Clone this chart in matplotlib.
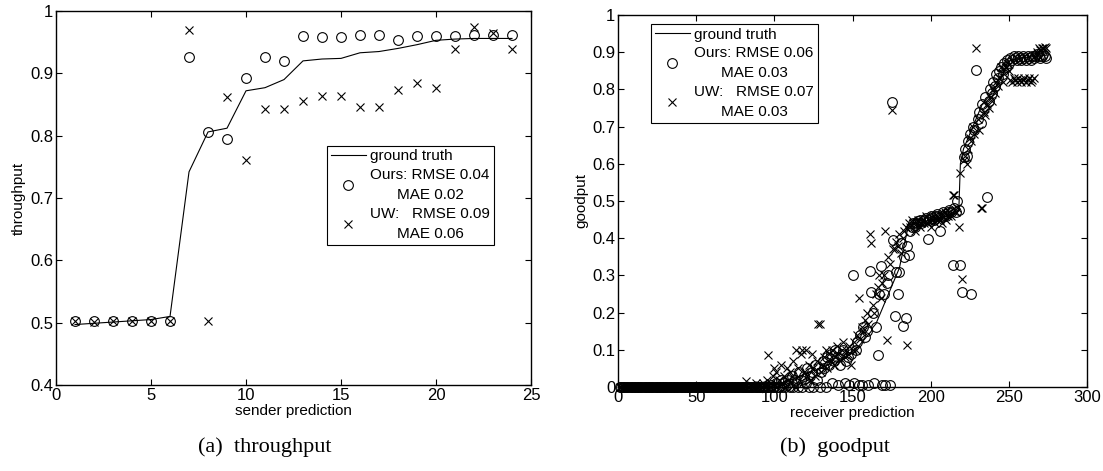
import matplotlib
matplotlib.use("Agg")
import matplotlib.pyplot as plt
from matplotlib.ticker import FuncFormatter

plt.rcParams["font.family"] = ["Liberation Sans", "DejaVu Sans"]

# ---- (a) throughput: sender prediction ----
sender_idx = list(range(1, 25))
sender_truth = [0.497, 0.499, 0.501, 0.503, 0.505, 0.510, 0.742, 0.806, 0.812, 0.872,
                0.877, 0.890, 0.920, 0.923, 0.924, 0.933, 0.935, 0.940, 0.946, 0.953,
                0.955, 0.956, 0.956, 0.956]
sender_ours = [0.503, 0.503, 0.503, 0.503, 0.503, 0.503, 0.927, 0.806, 0.795, 0.892,
               0.927, 0.920, 0.960, 0.959, 0.958, 0.961, 0.961, 0.953, 0.960, 0.960,
               0.960, 0.962, 0.962, 0.961]
sender_uw = [0.503, 0.501, 0.503, 0.503, 0.503, 0.503, 0.970, 0.503, 0.862, 0.761,
             0.843, 0.843, 0.855, 0.864, 0.864, 0.846, 0.846, 0.873, 0.884, 0.877,
             0.939, 0.975, 0.965, 0.939]

# ---- (b) goodput: receiver prediction (274 links) ----
recv_truth = (
    [0, 0, 0, 0, 0, 0, 0, 0, 0, 0, 0, 0, 0, 0, 0, 0, 0, 0, 0, 0,
     0, 0, 0, 0, 0, 0, 0, 0, 0, 0, 0, 0, 0, 0, 0, 0, 0, 0, 0, 0,
     0, 0, 0, 0, 0, 0, 0, 0, 0, 0, 0, 0, 0, 0, 0, 0, 0, 0, 0, 0,
     0, 0, 0, 0, 0, 0, 0, 0, 0, 0, 0, 0, 0, 0, 0, 0, 0, 0, 0, 0,
     0, 0, 0, 0, 0, 0, 0, 0, 0, 0, 0, 0, 0, 0, 0] +
    [0.0, 0.0, 0.0, 0.005, 0.005, 0.005, 0.01, 0.01, 0.01, 0.01,
     0.015, 0.015, 0.015, 0.02, 0.02] +
    [0.02, 0.02, 0.025, 0.025, 0.025, 0.03, 0.03, 0.03, 0.035, 0.035,
     0.035, 0.04, 0.04, 0.04, 0.045, 0.045, 0.045, 0.05, 0.05, 0.05] +
    [0.05, 0.055, 0.055, 0.06, 0.06, 0.06, 0.065, 0.065, 0.07, 0.07,
     0.07, 0.075, 0.075, 0.08, 0.08, 0.08, 0.085, 0.085, 0.09, 0.09] +
    [0.095, 0.10, 0.105, 0.11, 0.115, 0.12, 0.125, 0.13, 0.135, 0.14] +
    [0.145, 0.15, 0.16, 0.165, 0.17, 0.18, 0.19, 0.20, 0.21, 0.22] +
    [0.23, 0.24, 0.25, 0.26, 0.27, 0.28, 0.29, 0.30, 0.31, 0.32] +
    [0.34, 0.36, 0.38, 0.40, 0.42, 0.43, 0.435, 0.44, 0.44, 0.44] +
    [0.44, 0.441, 0.442, 0.443, 0.444, 0.445, 0.446, 0.447, 0.448, 0.449,
     0.45, 0.451, 0.452, 0.453, 0.454, 0.455, 0.456, 0.457, 0.458, 0.46,
     0.462, 0.464, 0.466, 0.468, 0.47, 0.472, 0.474, 0.475] +
    [0.60, 0.62, 0.64, 0.65, 0.66, 0.67, 0.68, 0.69, 0.70, 0.71,
     0.72, 0.73, 0.74, 0.75, 0.76, 0.765, 0.77, 0.775, 0.78, 0.785,
     0.79, 0.80, 0.805, 0.81, 0.815, 0.82, 0.83, 0.84, 0.85, 0.86,
     0.87, 0.875] +
    [0.878, 0.88, 0.88, 0.881, 0.882, 0.882, 0.883, 0.884, 0.885, 0.885,
     0.886, 0.886, 0.887, 0.887, 0.888, 0.888, 0.889, 0.889, 0.89, 0.89,
     0.89, 0.891, 0.891, 0.892]
)
recv_ours = (
    [0, 0, 0, 0, 0, 0, 0, 0, 0, 0, 0, 0, 0, 0, 0, 0, 0, 0, 0, 0,
     0, 0, 0, 0, 0, 0, 0, 0, 0, 0, 0, 0, 0, 0, 0, 0, 0, 0, 0, 0,
     0, 0, 0, 0, 0, 0, 0, 0, 0, 0, 0, 0, 0, 0, 0, 0, 0, 0, 0, 0,
     0, 0, 0, 0, 0, 0, 0, 0, 0, 0, 0, 0, 0, 0, 0, 0, 0, 0, 0, 0,
     0, 0, 0, 0, 0, 0, 0, 0, 0, 0, 0, 0, 0, 0, 0] +
    [0, 0, 0.005, 0, 0, 0.01, 0, 0, 0.02, 0, 0.01, 0, 0.005, 0.02, 0] +
    [0.03, 0, 0.02, 0.01, 0, 0.04, 0.02, 0, 0.03, 0.01,
     0.05, 0, 0.03, 0.04, 0, 0.06, 0.02, 0.05, 0, 0.04] +
    [0.07, 0.05, 0, 0.08, 0.06, 0.09, 0.01, 0.07, 0.10, 0.08,
     0.005, 0.06, 0.09, 0.10, 0.01, 0.07, 0.08, 0.005, 0.09, 0.30] +
    [0.01, 0.10, 0.12, 0.005, 0.14, 0.005, 0.16, 0.134, 0.15, 0.005] +
    [0.313, 0.255, 0.20, 0.01, 0.16, 0.086, 0.25, 0.325, 0.005, 0.25] +
    [0.005, 0.28, 0.30, 0.005, 0.765, 0.394, 0.19, 0.31, 0.25, 0.31] +
    [0.386, 0.165, 0.35, 0.185, 0.38, 0.354, 0.42, 0.43, 0.44, 0.43] +
    [0.44, 0.445, 0.45, 0.44, 0.445, 0.45, 0.455, 0.397, 0.45, 0.46,
     0.455, 0.45, 0.46, 0.465, 0.46, 0.42, 0.46, 0.47, 0.465, 0.46,
     0.47, 0.475, 0.47, 0.327, 0.48, 0.47, 0.50, 0.475] +
    [0.327, 0.255, 0.617, 0.64, 0.62, 0.66, 0.68, 0.25, 0.70, 0.69,
     0.853, 0.72, 0.74, 0.71, 0.76, 0.75, 0.78, 0.51, 0.77, 0.80,
     0.79, 0.82, 0.81, 0.84, 0.83, 0.85, 0.86, 0.84, 0.87, 0.86,
     0.88, 0.87] +
    [0.885, 0.88, 0.89, 0.885, 0.88, 0.89, 0.885, 0.88, 0.89, 0.885,
     0.88, 0.89, 0.885, 0.88, 0.89, 0.885, 0.89, 0.895, 0.89, 0.885,
     0.89, 0.895, 0.89, 0.885]
)
recv_uw = (
    [0, 0, 0, 0, 0, 0, 0, 0, 0, 0, 0, 0, 0, 0, 0, 0, 0, 0, 0, 0,
     0, 0, 0, 0, 0, 0, 0, 0, 0, 0, 0, 0, 0, 0, 0, 0, 0, 0, 0, 0,
     0, 0, 0, 0, 0, 0, 0, 0, 0, 0, 0, 0, 0, 0, 0, 0, 0, 0, 0, 0,
     0, 0, 0, 0, 0, 0, 0, 0, 0, 0, 0, 0, 0, 0, 0, 0, 0, 0, 0, 0] +
    [0, 0.015, 0, 0, 0.005, 0, 0, 0.01, 0, 0, 0.005, 0, 0.01, 0, 0.02] +
    [0.086, 0, 0.01, 0.03, 0.05, 0.04, 0, 0.02, 0.06, 0.01,
     0.03, 0, 0.05, 0.02, 0.04] +
    [0.03, 0.07, 0, 0.10, 0.05, 0.02, 0.09, 0.10, 0.04, 0.10,
     0.03, 0.06, 0.02, 0.09, 0.05, 0.03, 0.07, 0.17, 0.17, 0.04] +
    [0.06, 0.08, 0.10, 0.05, 0.09, 0.07, 0.10, 0.06, 0.08, 0.11,
     0.09, 0.07, 0.10, 0.12, 0.08, 0.10, 0.09, 0.11, 0.06, 0.10] +
    [0.12, 0.10, 0.14, 0.24, 0.13, 0.16, 0.15, 0.18, 0.20, 0.17] +
    [0.41, 0.386, 0.22, 0.20, 0.25, 0.27, 0.30, 0.24, 0.28, 0.30] +
    [0.42, 0.126, 0.35, 0.33, 0.745, 0.37, 0.372, 0.39, 0.38, 0.41] +
    [0.36, 0.40, 0.42, 0.43, 0.113, 0.44, 0.43, 0.45, 0.44, 0.42] +
    [0.44, 0.45, 0.43, 0.44, 0.45, 0.44, 0.46, 0.44, 0.45, 0.43,
     0.45, 0.46, 0.44, 0.45, 0.46, 0.45, 0.44, 0.46, 0.47, 0.45,
     0.46, 0.47, 0.46, 0.515, 0.515, 0.47, 0.48, 0.43] +
    [0.576, 0.29, 0.61, 0.62, 0.60, 0.64, 0.67, 0.66, 0.70, 0.68,
     0.91, 0.72, 0.69, 0.48, 0.48, 0.74, 0.73, 0.76, 0.75, 0.78,
     0.77, 0.80, 0.79, 0.82, 0.81, 0.83, 0.86, 0.82, 0.84, 0.86,
     0.87, 0.85] +
    [0.825, 0.82, 0.83, 0.825, 0.82, 0.83, 0.825, 0.82, 0.825, 0.83,
     0.82, 0.825, 0.83, 0.82, 0.825, 0.83, 0.89, 0.90, 0.91, 0.905,
     0.91, 0.91, 0.915, 0.91]
)
recv_idx = list(range(1, len(recv_truth) + 1))

labels = ["ground truth", "Ours: RMSE 0.04\nMAE 0.02", "UW:   RMSE 0.09\nMAE 0.06"]
labels_b = ["ground truth", "Ours: RMSE 0.06\nMAE 0.03", "UW:   RMSE 0.07\nMAE 0.03"]

fmt = FuncFormatter(lambda v, p: "%g" % round(v, 2))


def style_axes(ax):
    ax.tick_params(direction="in", top=True, right=True, labelsize=12, length=4, width=0.8, pad=2)
    for s in ax.spines.values():
        s.set_linewidth(1.0)
    ax.yaxis.set_major_formatter(fmt)


def add_legend(ax, labs, anchor):
    leg = ax.legend(labels=labs, loc="upper left", bbox_to_anchor=anchor, fontsize=11,
                    frameon=True, fancybox=False, edgecolor="black", framealpha=1,
                    borderpad=0.25, handlelength=2.3, handletextpad=0.3,
                    labelspacing=0.3, borderaxespad=0)
    leg.get_frame().set_linewidth(0.8)
    for t in leg.get_texts():
        t.set_multialignment("center")
        t.set_linespacing(1.55)
    return leg


fig = plt.figure(figsize=(11.03, 4.71), dpi=100)

ax1 = fig.add_axes([0.0508, 0.1826, 0.4306, 0.794])
ax1.plot(sender_idx, sender_truth, color="black", lw=0.8)
ax1.plot(sender_idx, sender_ours, "o", mfc="none", mec="black", ms=7, mew=0.8, clip_on=False)
ax1.plot(sender_idx, sender_uw, "x", color="black", ms=5.5, mew=0.8, clip_on=False)
ax1.set_xlim(0, 25)
ax1.set_ylim(0.4, 1.0)
ax1.set_xticks([0, 5, 10, 15, 20, 25])
ax1.set_yticks([0.4, 0.5, 0.6, 0.7, 0.8, 0.9, 1.0])
style_axes(ax1)
ax1.set_xlabel("sender prediction", fontsize=11, labelpad=1)
ax1.set_ylabel("throughput", fontsize=11, labelpad=3)
add_legend(ax1, labels, (0.57, 0.64))

ax2 = fig.add_axes([0.5603, 0.1783, 0.4252, 0.790])
ax2.plot(recv_idx, recv_truth, color="black", lw=0.8)
ax2.plot(recv_idx, recv_ours, "o", mfc="none", mec="black", ms=7, mew=0.8, clip_on=False)
ax2.plot(recv_idx, recv_uw, "x", color="black", ms=5.5, mew=0.8, clip_on=False)
ax2.set_xlim(0, 300)
ax2.set_ylim(0, 1.0)
ax2.set_xticks([0, 50, 100, 150, 200, 250, 300])
ax2.set_yticks([0, 0.1, 0.2, 0.3, 0.4, 0.5, 0.6, 0.7, 0.8, 0.9, 1.0])
style_axes(ax2)
ax2.set_xlabel("receiver prediction", fontsize=11, labelpad=1)
ax2.set_ylabel("goodput", fontsize=11, labelpad=3)
add_legend(ax2, labels_b, (0.07, 0.976))

fig.text(265 / 1103, 1 - 447 / 471, "(a)  throughput", ha="center", va="center",
         fontsize=16, family="Liberation Serif")
fig.text(835 / 1103, 1 - 447 / 471, "(b)  goodput", ha="center", va="center",
         fontsize=16, family="Liberation Serif")

fig.savefig("out.png", dpi=100)
